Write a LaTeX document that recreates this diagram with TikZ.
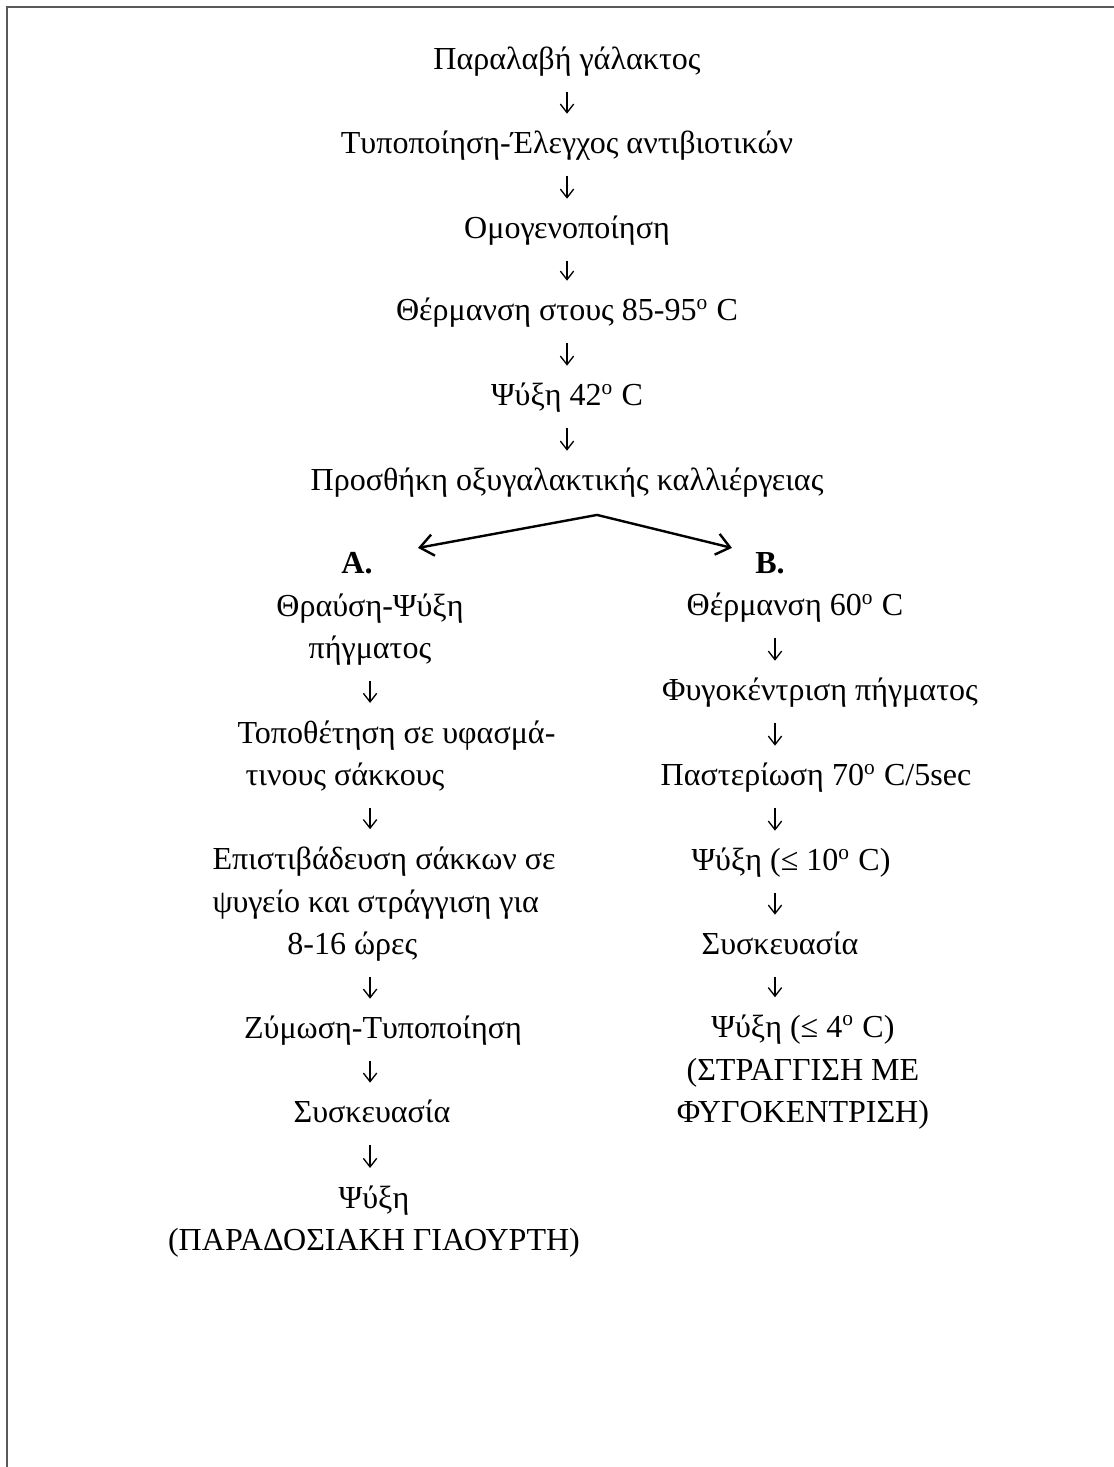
\documentclass[tikz,border=0pt]{standalone}
\usepackage{fontspec}
\setmainfont{Liberation Serif}
\usetikzlibrary{arrows.meta}

\begin{document}
\begin{tikzpicture}[
    stage/.style={inner sep=0pt, anchor=base, text depth=0pt, font=\fontsize{12}{16}\selectfont},
    stagebox/.style={stage, align=center},
    flow/.style={line width=0.5pt, -{Straight Barb[length=3.2pt,width=5pt]},
                 shorten <=7.9pt, shorten >=6.4pt},
    branch/.style={line width=0.9pt, {Straight Barb[length=5pt,width=8pt]}-{Straight Barb[length=5pt,width=8pt]}}
  ]
            \useasboundingbox (0,0) rectangle (14.660,19.306);
            
            % Drawing frame (top and left side only)
            \draw [line width=0.75pt, gray!70!black] (0.092,0) -- (0.092,19.214) -- (14.660,19.214);%
            
            \begin{scope}[yshift=-1.1pt]
            % Column axes
            \coordinate (colM) at (7.462,0);%
            \coordinate (colA) at (4.870,0);%
            \coordinate (colB) at (10.199,0);%
            
            % Common trunk
            \node [stage] (recv) at (7.462,18.424) {Παραλαβή γάλακτος};%
            \node [stage] (std) at (7.462,17.319) {Τυποποίηση-Έλεγχος αντιβιοτικών};%
            \node [stage] (homog) at (7.462,16.200) {Ομογενοποίηση};%
            \node [stage] (heat) at (7.462,15.121) {Θέρμανση στους 85-95\textsuperscript{o} C};%
            \node [stage] (cool) at (7.462,14.003) {Ψύξη 42\textsuperscript{o} C};%
            \node [stage] (cult) at (7.462,12.884) {Προσθήκη οξυγαλακτικής καλλιέργειας};%
            
            \draw [flow] (recv.south -| colM) -- (std.north -| colM);%
            \draw [flow] (std.south -| colM) -- (homog.north -| colM);%
            \draw [flow] (homog.south -| colM) -- (heat.north -| colM);%
            \draw [flow] (heat.south -| colM) -- (cool.north -| colM);%
            \draw [flow] (cool.south -| colM) -- (cult.north -| colM);%
            
            % Splitting into A and B
            \coordinate (split) at (7.857,12.568);%
            \coordinate (tipA) at (5.501,12.134);%
            \coordinate (tipB) at (9.633,12.134);%
            \draw [branch] (tipA) -- (split) -- (tipB);%
            \node [stage, font=\fontsize{12}{16}\selectfont\bfseries] (labA) at (4.698,11.792) {A.};%
            \node [stage, font=\fontsize{12}{16}\selectfont\bfseries] (labB) at (10.133,11.792) {B.};%
            
            % Branch A (multi-line texts sit on the baseline of their last line)
            \node [stagebox] (a1) at (4.869,10.673) {Θραύση-Ψύξη\\πήγματος};%
            \node [stagebox, align=left, anchor=base west] (a2) at (3.119,9.002) {Τοποθέτηση σε υφασμά-\\\hspace*{3pt}τινους σάκκους};%
            \node [stagebox, align=left, anchor=base west] (a3) at (2.790,6.778) {Επιστιβάδευση σάκκων σε\\ψυγείο και στράγγιση για\\\hspace*{28pt}8-16 ώρες};%
            \node [stage] (a4) at (5.040,5.672) {Ζύμωση-Τυποποίηση};%
            \node [stage] (a5) at (4.896,4.567) {Συσκευασία};%
            \node [stagebox] (a6) at (4.922,2.882) {Ψύξη\\(ΠΑΡΑΔΟΣΙΑΚΗ ΓΙΑΟΥΡΤΗ)};%
            
            \draw [flow] (a1.south -| colA) -- (a2.north -| colA);%
            \draw [flow] (a2.south -| colA) -- (a3.north -| colA);%
            \draw [flow] (a3.south -| colA) -- (a4.north -| colA);%
            \draw [flow] (a4.south -| colA) -- (a5.north -| colA);%
            \draw [flow] (a5.south -| colA) -- (a6.north -| colA);%
            
            % Branch B
            \node [stage] (b1) at (10.462,11.239) {Θέρμανση 60\textsuperscript{o} C};%
            \node [stage] (b2) at (10.791,10.120) {Φυγοκέντριση πήγματος};%
            \node [stage] (b3) at (10.739,9.002) {Παστερίωση 70\textsuperscript{o} C/5sec};%
            \node [stage] (b4) at (10.410,7.883) {Ψύξη (≤ 10\textsuperscript{o} C)};%
            \node [stage] (b5) at (10.265,6.778) {Συσκευασία};%
            \node [stagebox] (b6) at (10.567,4.567) {Ψύξη (≤ 4\textsuperscript{o} C)\\(ΣΤΡΑΓΓΙΣΗ ΜΕ\\ΦΥΓΟΚΕΝΤΡΙΣΗ)};%
            
            \draw [flow] (b1.south -| colB) -- (b2.north -| colB);%
            \draw [flow] (b2.south -| colB) -- (b3.north -| colB);%
            \draw [flow] (b3.south -| colB) -- (b4.north -| colB);%
            \draw [flow] (b4.south -| colB) -- (b5.north -| colB);%
            \draw [flow] (b5.south -| colB) -- (b6.north -| colB);%
            \end{scope}
\end{tikzpicture}
\end{document}
